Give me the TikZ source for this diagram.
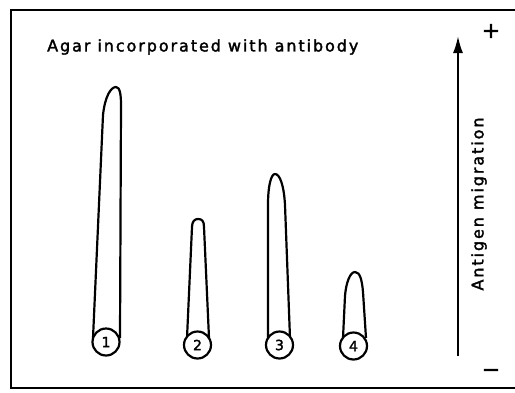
\documentclass[tikz,border=0pt]{standalone}
\usepackage{fontspec}
\setmainfont{DejaVu Sans}[FakeBold=2]
\newfontfamily\labfont{DejaVu Sans}[LetterSpace=12,FakeBold=2]
\usetikzlibrary{arrows.meta}
\tikzset{
  rocket/.style={draw=black, line width=2.2pt, line join=round},
  well/.style={circle, draw=black, fill=white, line width=2.2pt, minimum size=27pt, inner sep=0pt, font=\fontsize{14}{14}\selectfont},
  frameline/.style={draw=black, line width=2.2pt},
  lab/.style={font=\fontsize{16}{16}\labfont, inner sep=0pt}
}
\begin{document}
\begin{tikzpicture}[x=1pt,y=-1pt]
\useasboundingbox (0,0) rectangle (515,392);
% frame
\draw[frameline] (515,10) -- (11,10) -- (11,388) -- (515,388);
% title
\node[lab, anchor=west] (title) at (47,47) {Agar incorporated with antibody};
% rockets
\draw[rocket] (93,338) -- (103,115) .. controls (105,96) and (111,87) .. (116,87) .. controls (120,87) and (121,95) .. (121,105) -- (120,338);
\draw[rocket] (187,338) -- (192,227) .. controls (192,221) and (195,219) .. (198,219) .. controls (202,219) and (204,221) .. (204,227) -- (209,338);
\draw[rocket] (268,338) -- (268,205) .. controls (268,186) and (271,174) .. (275,174) .. controls (280,174) and (284,186) .. (285,205) -- (290,338);
\draw[rocket] (343,338) -- (345,296) .. controls (346,283) and (350,272) .. (355,272) .. controls (360,272) and (362,280) .. (363,292) -- (366,338);
% wells
\node[well] (w1) at (106,342) {1};
\node[well] (w2) at (197.5,345) {2};
\node[well] (w3) at (279.5,345) {3};
\node[well] (w4) at (353.5,346) {4};
% migration arrow
\coordinate (abot) at (458,356);
\coordinate (atop) at (458,36);
\draw[line width=2pt, -{Latex[length=17pt,width=10pt]}] (abot) -- (atop);
\node[lab, rotate=90] (mig) at (479,204) {Antigen migration};
\node[font=\fontsize{22}{22}\selectfont, inner sep=0pt] (plus) at (491,31) {+};
\node[font=\fontsize{22}{22}\selectfont, inner sep=0pt] (minus) at (491,373) {−};
\end{tikzpicture}
\end{document}
